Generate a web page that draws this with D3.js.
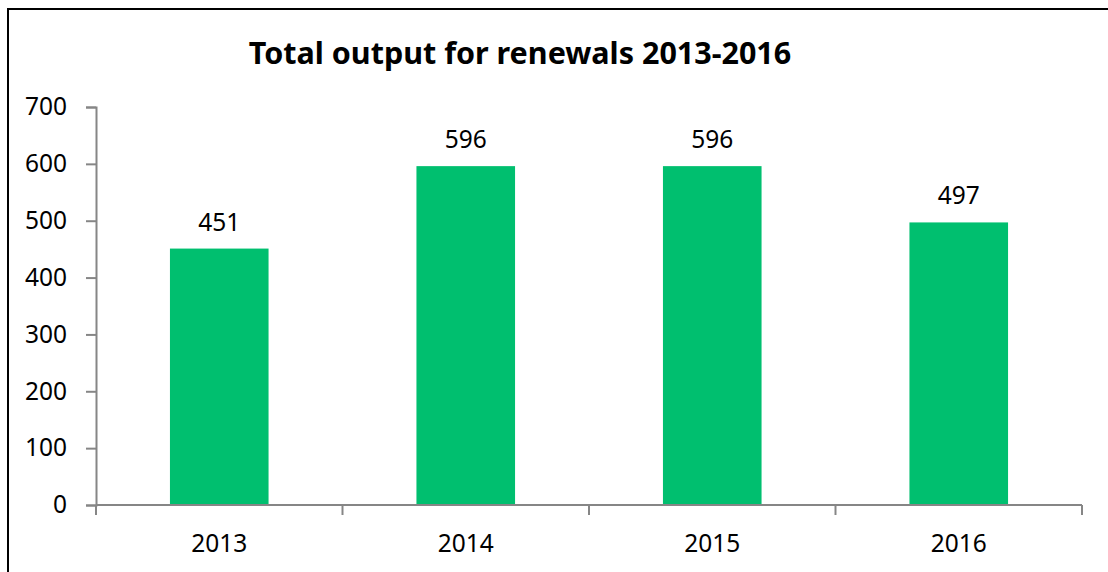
<!DOCTYPE html>
<html>
<head>
<meta charset="utf-8">
<script src="https://cdn.jsdelivr.net/npm/d3@7"></script>
<style>
  html, body { margin: 0; padding: 0; background: #fff; }
  svg { display: block; }
  text { font-family: "Noto Sans", "Open Sans", sans-serif; }
</style>
</head>
<body>
<svg id="chart" width="1108" height="572"></svg>
<script>
const title = "Total output for renewals 2013-2016";
const categories = ["2013", "2014", "2015", "2016"];
const values = [451, 596, 596, 497];
const yTicks = [0, 100, 200, 300, 400, 500, 600, 700];

const svg = d3.select("#chart");
const W = 1108, H = 572;
const plot = { left: 96, right: 1082, top: 107, bottom: 505 };

// chart border (top and left visible)
svg.append("path")
  .attr("d", `M8,${H + 5} L8,9 L${W + 5},9`)
  .attr("fill", "none").attr("stroke", "#000").attr("stroke-width", 2);

svg.append("text")
  .attr("x", 520).attr("y", 64)
  .attr("text-anchor", "middle")
  .attr("font-size", 30.5).attr("font-weight", "bold").attr("fill", "#000")
  .text(title);

const x = d3.scaleBand().domain(categories).range([plot.left, plot.right])
  .paddingInner(0.6).paddingOuter(0.3);
const y = d3.scaleLinear().domain([0, 700]).range([plot.bottom, plot.top]);

const axisColor = "#868686";

// bars
svg.append("g").selectAll("rect").data(values).join("rect")
  .attr("x", (d, i) => x(categories[i]))
  .attr("y", d => y(d))
  .attr("width", x.bandwidth())
  .attr("height", d => y(0) - y(d))
  .attr("fill", "#00BF6F");

// value labels
svg.append("g").selectAll("text").data(values).join("text")
  .attr("x", (d, i) => x(categories[i]) + x.bandwidth() / 2)
  .attr("y", d => y(d) - 18)
  .attr("text-anchor", "middle")
  .attr("font-size", 24.5).attr("fill", "#000")
  .text(d => d);

// y axis
const yAxis = d3.axisLeft(y).tickValues(yTicks).tickSize(10).tickPadding(19);
const gy = svg.append("g").attr("transform", `translate(${plot.left},0)`).call(yAxis);
gy.select(".domain").attr("stroke", axisColor).attr("stroke-width", 2);
gy.selectAll(".tick line").attr("stroke", axisColor).attr("stroke-width", 2);
gy.selectAll(".tick text").attr("font-size", 24.5).attr("fill", "#000")
  .attr("font-family", '"Noto Sans", sans-serif');

// x axis: category boundary ticks
const gx = svg.append("g");
gx.append("line")
  .attr("x1", plot.left).attr("x2", plot.right)
  .attr("y1", plot.bottom).attr("y2", plot.bottom)
  .attr("stroke", axisColor).attr("stroke-width", 2);
const step = x.step();
const bounds = d3.range(categories.length + 1).map(i => plot.left + i * step);
gx.selectAll("line.tk").data(bounds).join("line").attr("class", "tk")
  .attr("x1", d => d).attr("x2", d => d)
  .attr("y1", plot.bottom).attr("y2", plot.bottom + 10)
  .attr("stroke", axisColor).attr("stroke-width", 2);
gx.selectAll("text").data(categories).join("text")
  .attr("x", d => x(d) + x.bandwidth() / 2)
  .attr("y", 552)
  .attr("text-anchor", "middle")
  .attr("font-size", 24.5).attr("fill", "#000")
  .text(d => d);
</script>
</body>
</html>
